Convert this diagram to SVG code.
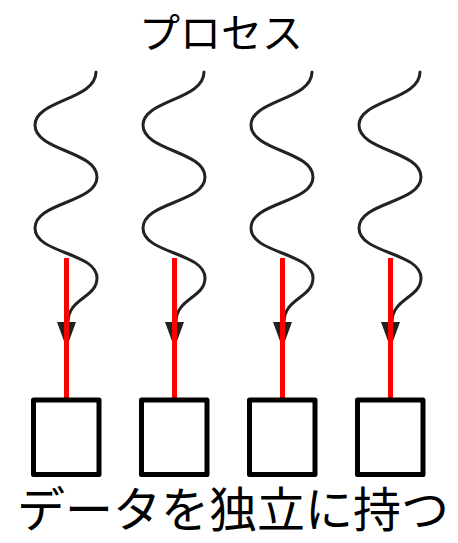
<svg xmlns="http://www.w3.org/2000/svg" width="458" height="543" viewBox="0 0 458 543">
<style>
.t{font-family:"Noto Sans CJK JP","Noto Sans",sans-serif;fill:#000;text-anchor:middle}
.wave{fill:none;stroke:#222;stroke-width:3;stroke-linecap:round}
.red{stroke:#ff0000;stroke-width:5}
.head{fill:#222}
.box{fill:#fff;stroke:#000;stroke-width:5;stroke-linejoin:round}
</style>
<text class="t" x="221" y="48" font-size="41">プロセス</text>
<g id="connectors">
<g id="c1">
<path class="wave" d="M96,72 C96,100 35,100 35,125 C35,151 97,151 97,177 C97,203 35,202 35,228 C35,254 97,252 97,278 C97,298 68,298 68,322"/>
<polygon class="head" points="57,322 76,322 66.5,348"/>
<line class="red" x1="66.5" y1="258" x2="66.5" y2="399"/>
</g>
<g id="c2" transform="translate(108,0)">
<path class="wave" d="M96,72 C96,100 35,100 35,125 C35,151 97,151 97,177 C97,203 35,202 35,228 C35,254 97,252 97,278 C97,298 68,298 68,322"/>
<polygon class="head" points="57,322 76,322 66.5,348"/>
<line class="red" x1="66.5" y1="258" x2="66.5" y2="399"/>
</g>
<g id="c3" transform="translate(216,0)">
<path class="wave" d="M96,72 C96,100 35,100 35,125 C35,151 97,151 97,177 C97,203 35,202 35,228 C35,254 97,252 97,278 C97,298 68,298 68,322"/>
<polygon class="head" points="57,322 76,322 66.5,348"/>
<line class="red" x1="66.5" y1="258" x2="66.5" y2="399"/>
</g>
<g id="c4" transform="translate(324,0)">
<path class="wave" d="M96,72 C96,100 35,100 35,125 C35,151 97,151 97,177 C97,203 35,202 35,228 C35,254 97,252 97,278 C97,298 68,298 68,322"/>
<polygon class="head" points="57,322 76,322 66.5,348"/>
<line class="red" x1="66.5" y1="258" x2="66.5" y2="399"/>
</g>
</g>
<g id="box1"><rect class="box" x="33.5" y="400" width="65.5" height="74.5"/></g>
<g id="box2"><rect class="box" x="141.5" y="400" width="65.5" height="74.5"/></g>
<g id="box3"><rect class="box" x="249.5" y="400" width="65.5" height="74.5"/></g>
<g id="box4"><rect class="box" x="357.5" y="400" width="65.5" height="74.5"/></g>
<text class="t" x="233" y="527" font-size="48">データを独立に持つ</text>
</svg>
